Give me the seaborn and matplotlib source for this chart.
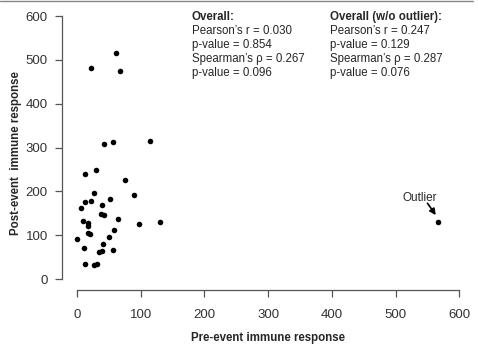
import matplotlib
matplotlib.use("Agg")
import matplotlib.pyplot as plt
import seaborn as sns
import pandas as pd
from matplotlib.lines import Line2D

pre_event = [42, 57, 115, 13, 30, 76, 27, 90, 13, 22, 52, 6, 39, 37, 42, 64,
             10, 18, 17, 98, 130, 58, 17, 21, 51, 0, 41, 11, 56, 40, 34, 13,
             27, 32, 61, 22, 67, 567]
post_event = [308, 312, 316, 240, 249, 227, 197, 191, 176, 179, 182, 163, 170,
              148, 146, 136, 132, 127, 120, 125, 130, 111, 106, 102, 95, 92,
              79, 70, 66, 64, 61, 35, 31, 34, 517, 481, 474, 130]

stats_all = ["Overall:", "Pearson\u2019s r = 0.030", "p-value = 0.854",
             "Spearman\u2019s \u03c1 = 0.267", "p-value = 0.096"]
stats_wo = ["Overall (w/o outlier):", "Pearson\u2019s r = 0.247", "p-value = 0.129",
            "Spearman\u2019s \u03c1 = 0.287", "p-value = 0.076"]
ticks = [0, 100, 200, 300, 400, 500, 600]

df = pd.DataFrame({"pre": pre_event, "post": post_event})

sns.set_style("ticks")
plt.rcParams["font.family"] = ["Liberation Sans", "DejaVu Sans"]

fig = plt.figure(figsize=(4.78, 3.54), dpi=100)
ax = fig.add_axes([0.129, 0.182, 0.864, 0.802])

sns.scatterplot(data=df, x="pre", y="post", color="black", s=16,
                edgecolor="black", linewidth=0, ax=ax)

ax.set_xlim(-24, 624)
ax.set_ylim(-24, 624)
ax.set_xticks(ticks)
ax.set_yticks(ticks)
for side in ["top", "right"]:
    ax.spines[side].set_visible(False)
for side in ["left", "bottom"]:
    ax.spines[side].set_bounds(0, 600)
    ax.spines[side].set_color("#555555")
    ax.spines[side].set_linewidth(0.9)
ax.tick_params(axis="both", direction="out", length=5, width=0.9,
               color="#555555", labelcolor="#333333", labelsize=9.5)
ax.tick_params(axis="x", pad=9)
ax.tick_params(axis="y", pad=5)

ax.set_xlabel("Pre-event immune response", fontsize=8.3, fontweight="bold", labelpad=8)
ax.set_ylabel("Post-event  immune response", fontsize=8.3, fontweight="bold")
ax.yaxis.set_label_coords(-0.095, 0.48)

y0 = 598
for i, (a, b) in enumerate(zip(stats_all, stats_wo)):
    w = "bold" if i == 0 else "normal"
    ax.text(180, y0 - i * 32, a, fontsize=8.3, fontweight=w, va="center", ha="left")
    ax.text(397, y0 - i * 32, b, fontsize=8.3, fontweight=w, va="center", ha="left")

ax.text(538, 185, "Outlier", fontsize=8.5, ha="center", va="center")
ax.annotate("", xy=(563, 146), xytext=(550, 173),
            arrowprops=dict(arrowstyle="-|>", color="black", lw=1.2,
                            shrinkA=0, shrinkB=0, mutation_scale=9))

fig.add_artist(Line2D([0, 0.99], [0.998, 0.998], color="#888888", lw=1,
                      transform=fig.transFigure))

fig.savefig("out.png", dpi=100)
